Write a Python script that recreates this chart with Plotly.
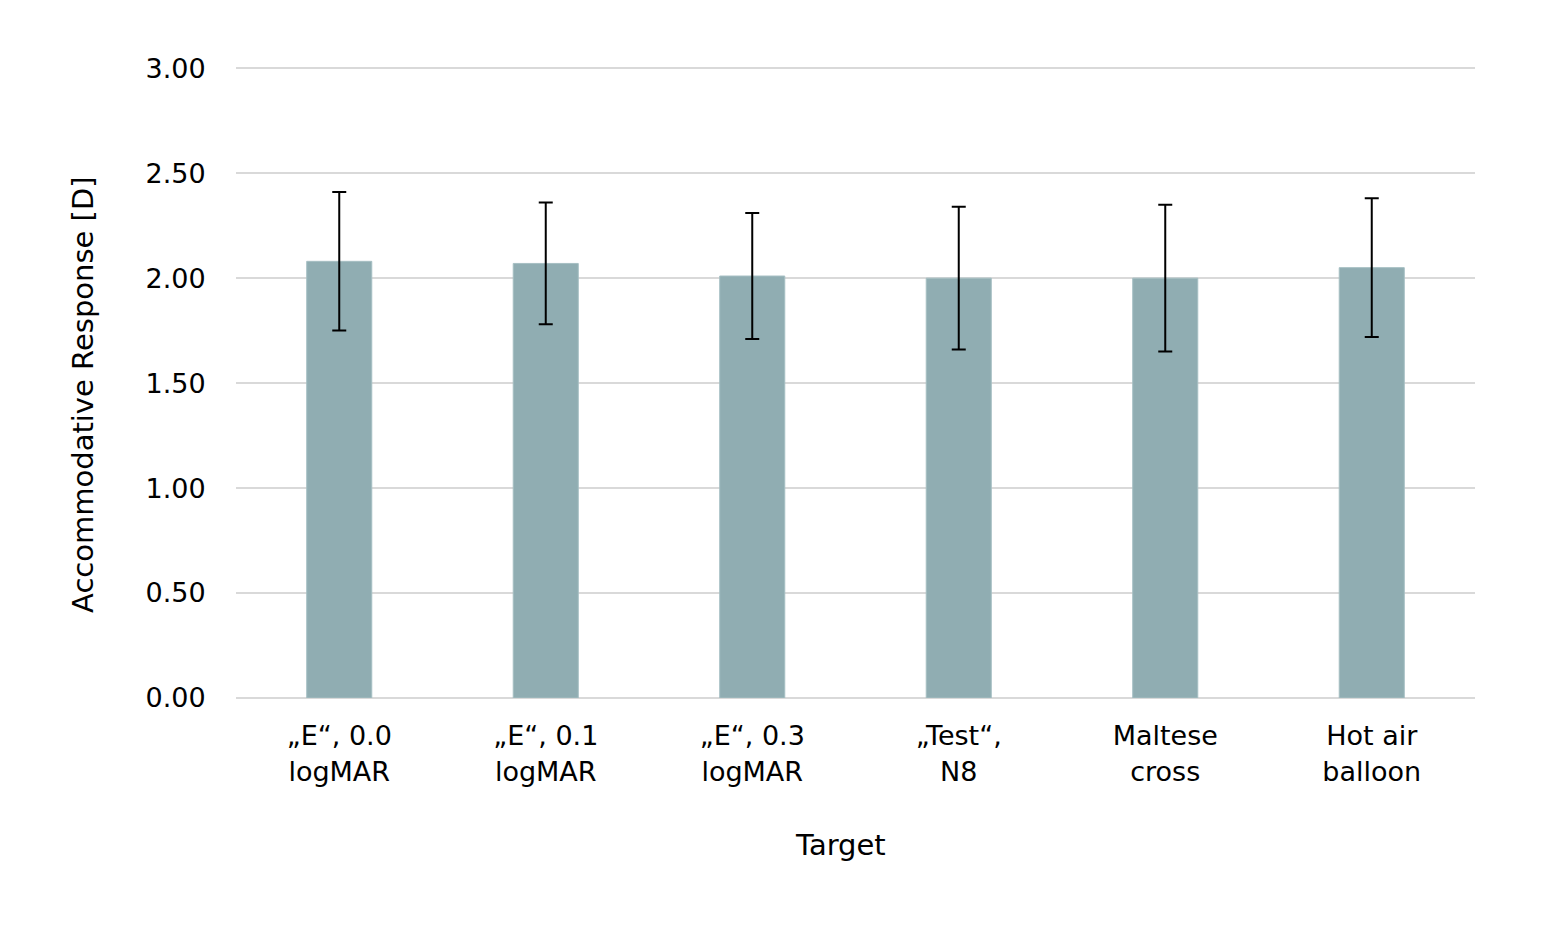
import plotly.graph_objects as go

categories = ["„E“, 0.0<br>logMAR", "„E“, 0.1<br>logMAR", "„E“, 0.3<br>logMAR",
              "„Test“,<br>N8", "Maltese<br>cross", "Hot air<br>balloon"]
means = [2.08, 2.07, 2.01, 2.00, 2.00, 2.05]
sds = [0.33, 0.29, 0.30, 0.34, 0.35, 0.33]
y_ticks = [0, 0.5, 1.0, 1.5, 2.0, 2.5, 3.0]
y_tick_labels = ["0.00", "0.50", "1.00", "1.50", "2.00", "2.50", "3.00"]
x_title = "Target"
y_title = "Accommodative Response [D]"

FONT = "DejaVu Sans"

fig = go.Figure()
fig.add_trace(go.Bar(
    x=categories, y=means,
    marker=dict(color="#90adb2", line=dict(color="#a6bfc3", width=1)),
    error_y=dict(type="data", array=sds, visible=True, color="black", thickness=2, width=7),
    width=0.315,
))

fig.update_layout(
    width=1541, height=930,
    margin=dict(l=228, r=74, t=56, b=240),
    plot_bgcolor="white", paper_bgcolor="white",
    font=dict(family=FONT, size=26, color="black"),
    showlegend=False,
    xaxis=dict(
        automargin=False,
        showgrid=False, showline=False, zeroline=False,
        tickfont=dict(size=27),
        ticks="outside", ticklen=14, tickcolor="rgba(0,0,0,0)",
    ),
    yaxis=dict(
        automargin=False,
        range=[0, 3.02], tickvals=y_ticks, ticktext=y_tick_labels,
        showgrid=True, gridcolor="#d9d9d9", gridwidth=2,
        zeroline=True, zerolinecolor="#d9d9d9", zerolinewidth=2,
        showline=False, ticks="outside", ticklen=24, tickcolor="rgba(0,0,0,0)",
        tickfont=dict(size=27),
    ),
    annotations=[
        dict(text=x_title, xref="paper", yref="paper", x=0.4875, y=0,
             xanchor="center", yanchor="middle", yshift=-147, showarrow=False,
             font=dict(size=29)),
        dict(text=y_title, xref="paper", yref="paper", x=0, y=0.478,
             xanchor="center", yanchor="middle", xshift=-153, textangle=-90,
             showarrow=False, font=dict(size=29)),
    ],
)

fig.write_html("out.html")
